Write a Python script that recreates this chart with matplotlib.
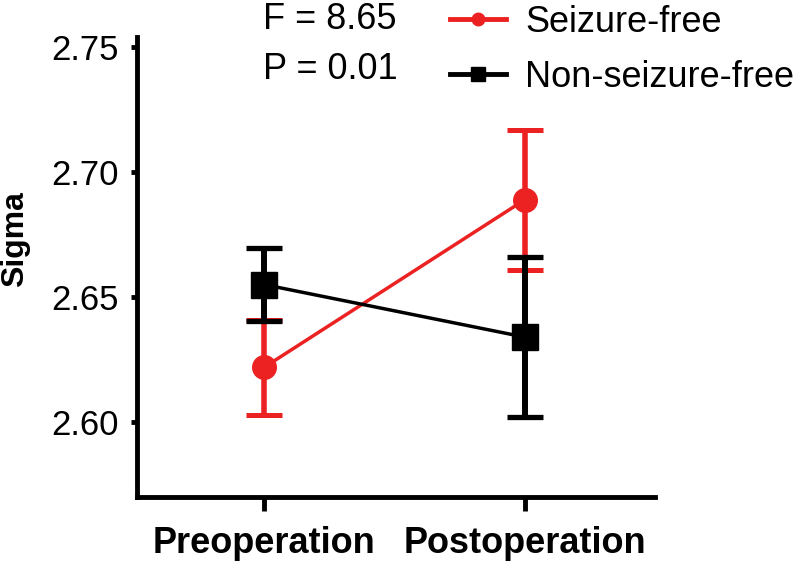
import matplotlib
matplotlib.use("Agg")
import matplotlib.pyplot as plt
from matplotlib.lines import Line2D

# Data
phases = ["Preoperation", "Postoperation"]
seizure_free = [2.622, 2.689]
seizure_free_err = [0.019, 0.028]
non_seizure_free = [2.655, 2.634]
non_seizure_free_err = [0.0145, 0.032]
y_ticks = [2.60, 2.65, 2.70, 2.75]
legend_labels = ["Seizure-free", "Non-seizure-free"]

plt.rcParams["font.family"] = ["Liberation Sans", "DejaVu Sans"]

fig = plt.figure(figsize=(8, 5.63), dpi=100)
ax = fig.add_axes([0.171, 0.117, 0.648, 0.817])

x = list(range(len(phases)))
red = "#ec2222"

ax.errorbar(x, seizure_free, yerr=seizure_free_err, color=red, lw=2.5,
            marker="o", ms=17, elinewidth=4, capsize=13, capthick=3.6, zorder=2)
ax.errorbar(x, non_seizure_free, yerr=non_seizure_free_err, color="black",
            lw=2.5, marker="s", ms=19, elinewidth=4.3, capsize=13, capthick=3.8,
            zorder=3)

ax.set_xlim(-0.49, 1.5)
ax.set_ylim(2.570, 2.754)
ax.set_yticks(y_ticks)
ax.set_yticklabels([f"{v:.2f}" for v in y_ticks], fontsize=25)
ax.set_xticks(x)
ax.set_xticklabels(phases, fontsize=26, fontweight="bold")
ax.set_ylabel("Sigma", fontsize=23, fontweight="bold")
ax.yaxis.set_label_coords(-0.205, 0.561)

for side in ["top", "right"]:
    ax.spines[side].set_visible(False)
for side in ["left", "bottom"]:
    ax.spines[side].set_linewidth(3.5)
ax.tick_params(axis="y", width=3.5, length=4, pad=9)
ax.tick_params(axis="x", width=3.5, length=10, pad=11)

fig.text(0.329, 0.966, "F = 8.65", fontsize=26, va="center", ha="left")
fig.text(0.329, 0.876, "P = 0.01", fontsize=26, va="center", ha="left")

handles = [
    Line2D([], [], color=red, lw=3.5, marker="o", ms=9),
    Line2D([], [], color="black", lw=3.5, marker="s", ms=10),
]
ax.legend(handles, legend_labels, loc="upper left", bbox_to_anchor=(0.562, 0.991),
          bbox_transform=fig.transFigure, frameon=False, fontsize=26,
          handlelength=1.55, handletextpad=0.55, labelspacing=0.55,
          borderpad=0, borderaxespad=0)

fig.savefig("out.png", dpi=100)
